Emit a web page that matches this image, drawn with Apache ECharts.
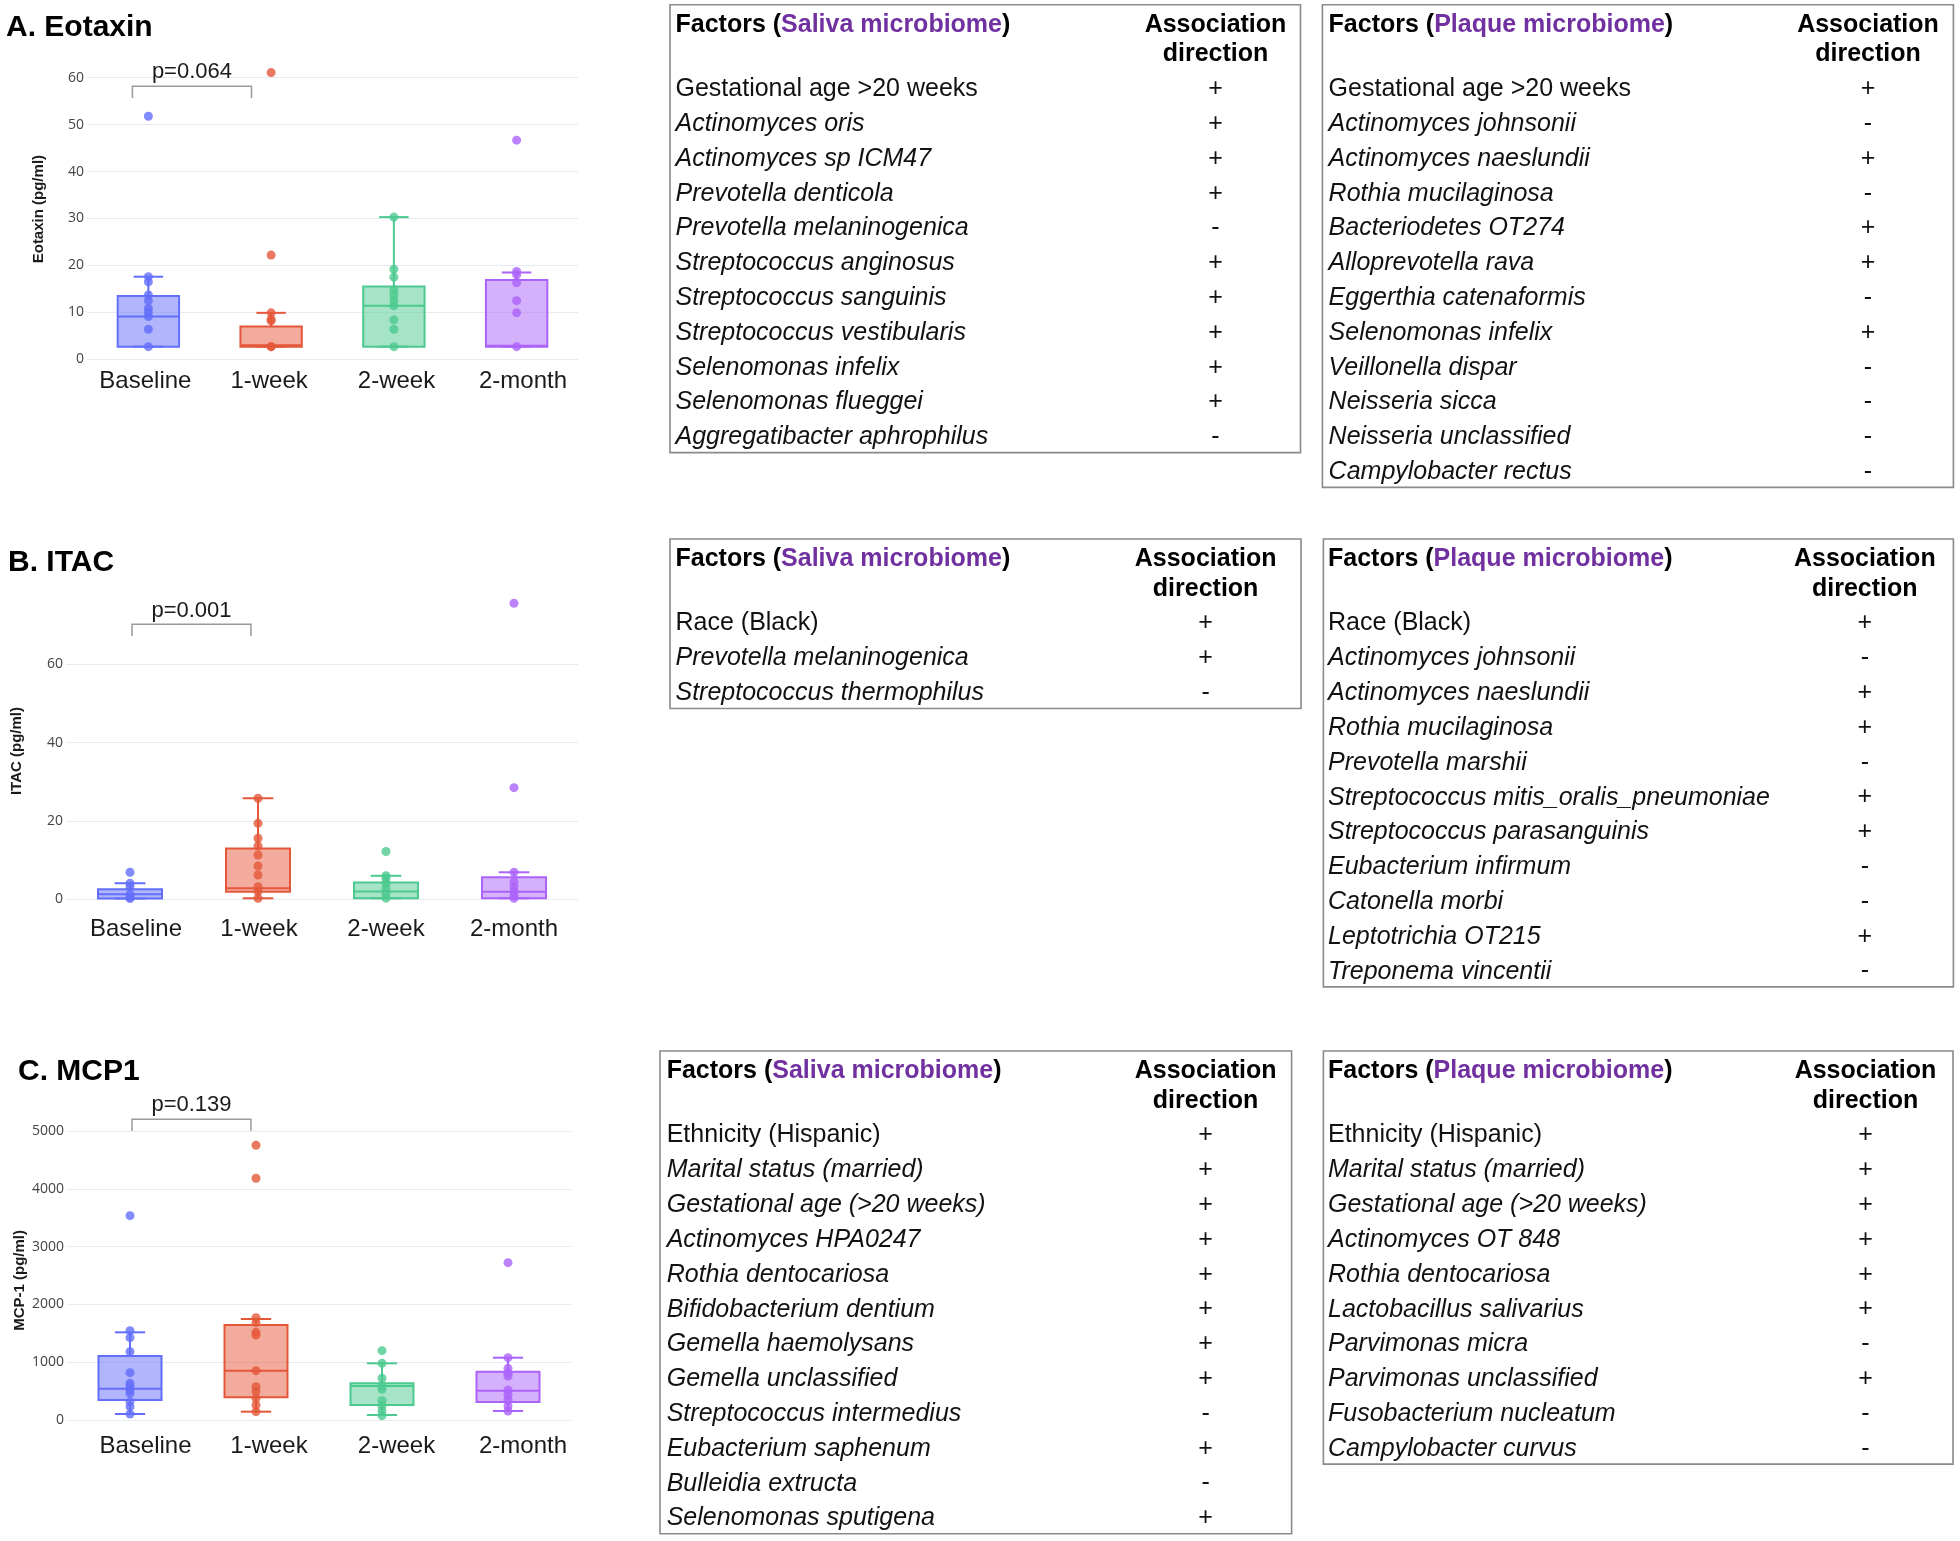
<!DOCTYPE html>
<html>
<head>
<meta charset="utf-8">
<script src="https://cdn.jsdelivr.net/npm/echarts@6/dist/echarts.min.js"></script>
<style>
  html, body { margin: 0; padding: 0; background: #ffffff; }
  #chart { width: 1960px; height: 1541px; }
</style>
</head>
<body>
<div id="chart"></div>
<script>
// ---------------- DATA ----------------
const timepoints = ['Baseline', '1-week', '2-week', '2-month'];

const panelTitles = ['A. Eotaxin', 'B. ITAC', 'C. MCP1'];
const yAxisNames = ['Eotaxin (pg/ml)', 'ITAC (pg/ml)', 'MCP-1 (pg/ml)'];
const pValues = ['p=0.064', 'p=0.001', 'p=0.139'];

// box statistics per timepoint: [lower whisker, Q1, median, Q3, upper whisker]
const eotaxinStats = [
  [2.7, 2.7, 9.1, 13.5, 17.6],
  [2.7, 2.7, 3.0, 7.0, 9.9],
  [2.7, 2.7, 11.4, 15.5, 30.3],
  [2.7, 2.7, 2.9, 16.9, 18.5]
];
const eotaxinPoints = [
  [51.8, 17.6, 16.5, 13.7, 12.5, 10.9, 10.0, 9.1, 6.4, 2.7],
  [61.1, 22.2, 9.9, 8.5, 8.2, 2.7, 2.7],
  [30.3, 19.2, 17.5, 14.8, 13.7, 12.5, 11.4, 8.4, 6.4, 2.7],
  [46.7, 18.7, 18.0, 16.3, 12.5, 9.9, 2.7]
];

const itacStats = [
  [0.2, 0.2, 1.3, 2.55, 4.1],
  [0.26, 1.95, 2.8, 13.0, 25.8],
  [0.26, 0.26, 2.0, 4.3, 6.0],
  [0.26, 0.26, 1.9, 5.6, 6.9]
];
const itacPoints = [
  [6.9, 4.1, 3.2, 1.3, 0.5, 0.2],
  [25.8, 19.4, 15.6, 13.6, 11.3, 8.5, 6.2, 3.2, 2.0, 0.26],
  [12.2, 6.0, 5.4, 4.1, 2.8, 1.5, 0.3],
  [75.6, 28.5, 6.9, 4.5, 3.2, 2.0, 0.9, 0.26]
];

const mcp1Stats = [
  [104, 346, 543, 1108, 1518],
  [144, 392, 854, 1645, 1749],
  [87, 260, 589, 635, 981],
  [156, 312, 508, 837, 1079]
];
const mcp1Points = [
  [3538, 1547, 1426, 1183, 820, 635, 589, 519, 462, 317, 231, 104],
  [4756, 4185, 1772, 1685, 1518, 1472, 854, 577, 491, 375, 260, 144],
  [1201, 981, 722, 589, 531, 335, 248, 162, 75],
  [2724, 1079, 895, 808, 762, 519, 433, 346, 242, 156]
];

// y-axis ticks
const yMaxTicks = [60, 60, 5000];
const yTickSteps = [10, 20, 1000];

// tables
const tableHeaderLeft = 'Factors';
const tableHeaderRight = ['Association', 'direction'];
const sampleTypes = ['Saliva microbiome', 'Plaque microbiome'];

const salivaEotaxinFactors = ['Gestational age >20 weeks', 'Actinomyces oris', 'Actinomyces sp ICM47', 'Prevotella denticola', 'Prevotella melaninogenica', 'Streptococcus anginosus', 'Streptococcus sanguinis', 'Streptococcus vestibularis', 'Selenomonas infelix', 'Selenomonas flueggei', 'Aggregatibacter aphrophilus'];
const salivaEotaxinSigns = ['+', '+', '+', '+', '-', '+', '+', '+', '+', '+', '-'];

const plaqueEotaxinFactors = ['Gestational age >20 weeks', 'Actinomyces johnsonii', 'Actinomyces naeslundii', 'Rothia mucilaginosa', 'Bacteriodetes OT274', 'Alloprevotella rava', 'Eggerthia catenaformis', 'Selenomonas infelix', 'Veillonella dispar', 'Neisseria sicca', 'Neisseria unclassified', 'Campylobacter rectus'];
const plaqueEotaxinSigns = ['+', '-', '+', '-', '+', '+', '-', '+', '-', '-', '-', '-'];

const salivaItacFactors = ['Race (Black)', 'Prevotella melaninogenica', 'Streptococcus thermophilus'];
const salivaItacSigns = ['+', '+', '-'];

const plaqueItacFactors = ['Race (Black)', 'Actinomyces johnsonii', 'Actinomyces naeslundii', 'Rothia mucilaginosa', 'Prevotella marshii', 'Streptococcus mitis_oralis_pneumoniae', 'Streptococcus parasanguinis', 'Eubacterium infirmum', 'Catonella morbi', 'Leptotrichia OT215', 'Treponema vincentii'];
const plaqueItacSigns = ['+', '-', '+', '+', '-', '+', '+', '-', '-', '+', '-'];

const salivaMcp1Factors = ['Ethnicity (Hispanic)', 'Marital status (married)', 'Gestational age (>20 weeks)', 'Actinomyces HPA0247', 'Rothia dentocariosa', 'Bifidobacterium dentium', 'Gemella haemolysans', 'Gemella unclassified', 'Streptococcus intermedius', 'Eubacterium saphenum', 'Bulleidia extructa', 'Selenomonas sputigena'];
const salivaMcp1Signs = ['+', '+', '+', '+', '+', '+', '+', '+', '-', '+', '-', '+'];

const plaqueMcp1Factors = ['Ethnicity (Hispanic)', 'Marital status (married)', 'Gestational age (>20 weeks)', 'Actinomyces OT 848', 'Rothia dentocariosa', 'Lactobacillus salivarius', 'Parvimonas micra', 'Parvimonas unclassified', 'Fusobacterium nucleatum', 'Campylobacter curvus'];
const plaqueMcp1Signs = ['+', '+', '+', '+', '+', '+', '-', '+', '-', '-'];

// factors set in upright (non-italic) type
const uprightFactors = ['Gestational age >20 weeks', 'Race (Black)', 'Ethnicity (Hispanic)'];

// ---------------- STYLE / LAYOUT ----------------
const groupColors = ['#636EFA', '#E5573A', '#4CC98E', '#AB63FA'];
const groupFills = ['rgba(99,110,250,0.5)', 'rgba(229,87,58,0.5)', 'rgba(76,201,142,0.5)', 'rgba(171,99,250,0.5)'];
const FONT = '"Liberation Sans", Arial, Helvetica, sans-serif';

const panels = [
  { stats: eotaxinStats, points: eotaxinPoints,
    grid: { left: 87, top: 58.95, width: 491, height: 300.35 }, yMax: 64,
    nameGap: 41, namePad: [0, 0, 0, 0], labelMargin: 10, labelShift: [-3, -2, 2.6, 6.4],
    bracket: { x0: -0.13, x1: 0.84, top: 58.2, leg: 55.7, text: 61.3 },
    title: { x: 6, y: 27.5 } },
  { stats: itacStats, points: itacPoints,
    grid: { left: 66, top: 593.8, width: 512, height: 305.5 }, yMax: 78,
    nameGap: 42, namePad: [0, 9, 0, 0], labelMargin: 18.5, labelShift: [6, 1, 0, 0],
    bracket: { x0: 0.016, x1: 0.945, top: 70.2, leg: 67.2, text: 73.7 },
    title: { x: 8, y: 562.5 } },
  { stats: mcp1Stats, points: mcp1Points,
    grid: { left: 67, top: 1090.8, width: 504, height: 329.2 }, yMax: 5700,
    nameGap: 40, namePad: [0, 50, 0, 0], labelMargin: 14, labelShift: [15.5, 13, 14.5, 15],
    bracket: { x0: 0.016, x1: 0.96, top: 5207, leg: 5010, text: 5455 },
    title: { x: 18, y: 1071.5 } }
];

const tables = [
  { factors: salivaEotaxinFactors, signs: salivaEotaxinSigns, type: 0, x: 670, y: 4.7, w: 630.5, textX: 675.5, assocX: 1215.5 },
  { factors: plaqueEotaxinFactors, signs: plaqueEotaxinSigns, type: 1, x: 1322.4, y: 4.7, w: 631, textX: 1328.6, assocX: 1868 },
  { factors: salivaItacFactors, signs: salivaItacSigns, type: 0, x: 670, y: 539, w: 631, textX: 675.5, assocX: 1205.6 },
  { factors: plaqueItacFactors, signs: plaqueItacSigns, type: 1, x: 1323.4, y: 539, w: 630, textX: 1328, assocX: 1864.8 },
  { factors: salivaMcp1Factors, signs: salivaMcp1Signs, type: 0, x: 660, y: 1051, w: 631.6, textX: 666.7, assocX: 1205.6 },
  { factors: plaqueMcp1Factors, signs: plaqueMcp1Signs, type: 1, x: 1323.4, y: 1051, w: 629.6, textX: 1328, assocX: 1865.5 }
];

// ---------------- BUILD ----------------
function renderBox(params, api) {
  const i = api.value(0);
  const cx = api.coord([i, 0])[0];
  const band = api.size([1, 0])[0];
  const hw = band * 0.25, cw = band * 0.12;
  const yLow = api.coord([i, api.value(1)])[1];
  const yQ1 = api.coord([i, api.value(2)])[1];
  const yMed = api.coord([i, api.value(3)])[1];
  const yQ3 = api.coord([i, api.value(4)])[1];
  const yHigh = api.coord([i, api.value(5)])[1];
  const c = groupColors[i];
  const ls = { stroke: c, lineWidth: 2, fill: null };
  return {
    type: 'group',
    children: [
      { type: 'rect', shape: { x: cx - hw, y: yQ3, width: 2 * hw, height: yQ1 - yQ3 }, style: { fill: groupFills[i], stroke: c, lineWidth: 2 } },
      { type: 'line', shape: { x1: cx - hw, y1: yMed, x2: cx + hw, y2: yMed }, style: ls },
      { type: 'line', shape: { x1: cx, y1: yQ3, x2: cx, y2: yHigh }, style: ls },
      { type: 'line', shape: { x1: cx, y1: yQ1, x2: cx, y2: yLow }, style: ls },
      { type: 'line', shape: { x1: cx - cw, y1: yHigh, x2: cx + cw, y2: yHigh }, style: ls },
      { type: 'line', shape: { x1: cx - cw, y1: yLow, x2: cx + cw, y2: yLow }, style: ls }
    ]
  };
}

function makeBracketRenderer(p, label) {
  return function (params, api) {
    const g0 = api.value(0), g1 = api.value(1);
    const band = api.size([1, 0])[0];
    const c0 = api.coord([g0, p.bracket.top]);
    const c1 = api.coord([g1, p.bracket.top]);
    const x0 = c0[0] + p.bracket.x0 * band;
    const x1 = c1[0] + (p.bracket.x1 - 1) * band;
    const yTop = c0[1];
    const yLeg = api.coord([g0, p.bracket.leg])[1];
    const yText = api.coord([g0, p.bracket.text])[1];
    return {
      type: 'group',
      children: [
        { type: 'polyline', shape: { points: [[x0, yLeg], [x0, yTop], [x1, yTop], [x1, yLeg]] }, style: { stroke: '#9a9a9a', lineWidth: 1.5, fill: null } },
        { type: 'text', style: { text: label, x: (x0 + x1) / 2, y: yText, align: 'center', verticalAlign: 'middle', fontSize: 22, fontFamily: FONT, fill: '#1a1a1a' } }
      ]
    };
  };
}

const grids = [], xAxes = [], yAxes = [], series = [], graphics = [];

panels.forEach((p, k) => {
  grids.push(p.grid);
  const rich = {};
  p.labelShift.forEach((s, i) => {
    rich['l' + i] = { fontSize: 24, fontFamily: FONT, color: '#1a1a1a',
      padding: s >= 0 ? [0, 0, 0, 2 * s] : [0, -2 * s, 0, 0] };
  });
  xAxes.push({
    type: 'category', gridIndex: k, data: timepoints, boundaryGap: true,
    axisLine: { show: false }, axisTick: { show: false }, splitLine: { show: false },
    axisLabel: { fontSize: 24, fontFamily: FONT, color: '#1a1a1a', margin: p.labelMargin, interval: 0,
      formatter: (v, idx) => '{l' + idx + '|' + v + '}', rich: rich }
  });
  yAxes.push({
    type: 'value', gridIndex: k, min: 0, max: p.yMax, interval: yTickSteps[k],
    name: yAxisNames[k], nameLocation: 'middle', nameGap: p.nameGap, nameRotate: 90,
    nameTextStyle: { fontSize: 15, fontWeight: 'bold', fontFamily: FONT, color: '#1a1a1a', padding: p.namePad },
    axisLine: { show: false }, axisTick: { show: false },
    axisLabel: { fontSize: 14, fontFamily: '"Open Sans", Arial, sans-serif', color: '#444', margin: 3, showMaxLabel: false,
      formatter: v => (v <= yMaxTicks[k] && v % yTickSteps[k] === 0) ? String(v) : '' },
    splitLine: { show: true, showMaxLine: false, lineStyle: { color: '#e6ebf3', width: 1.2 } }
  });
  series.push({
    type: 'custom', xAxisIndex: k, yAxisIndex: k, z: 2,
    renderItem: renderBox,
    encode: { x: 0, y: [1, 2, 3, 4, 5] },
    data: p.stats.map((s, i) => [i].concat(s))
  });
  const pts = [];
  p.points.forEach((arr, i) => arr.forEach(v => pts.push({ value: [i, v], itemStyle: { color: groupColors[i] } })));
  series.push({
    type: 'scatter', xAxisIndex: k, yAxisIndex: k, z: 3,
    symbol: 'circle', symbolSize: 9, data: pts
  });
  series.push({
    type: 'custom', xAxisIndex: k, yAxisIndex: k, z: 4,
    renderItem: makeBracketRenderer(p, pValues[k]),
    encode: { x: 0, y: 2 },
    data: [[0, 1, p.bracket.top]]
  });
  graphics.push({
    type: 'text', x: p.title.x, y: p.title.y,
    style: { text: panelTitles[k], fontSize: 30, fontWeight: 'bold', fontFamily: FONT, fill: '#000', verticalAlign: 'middle', align: 'left' }
  });
});

// tables
const ROW0 = 84.6, ROWH = 34.8, H1 = 20.4, H2 = 49.8;
tables.forEach(t => {
  const n = t.factors.length;
  const h = 83.4 + ROWH * (n - 1) + 16.5;
  graphics.push({ type: 'rect', shape: { x: t.x, y: t.y, width: t.w, height: h }, style: { fill: null, stroke: '#8a8a8a', lineWidth: 1.6 } });
  graphics.push({
    type: 'text', x: t.textX, y: t.y + H1,
    style: {
      text: '{b|' + tableHeaderLeft + ' (}{p|' + sampleTypes[t.type] + '}{b|)}',
      verticalAlign: 'middle', align: 'left', fontSize: 25, fontWeight: 'bold', fontFamily: FONT, fill: '#000',
      rich: {
        b: { fontSize: 25, fontWeight: 'bold', fontFamily: FONT, fill: '#000', color: '#000' },
        p: { fontSize: 25, fontWeight: 'bold', fontFamily: FONT, fill: '#7030A0', color: '#7030A0' }
      }
    }
  });
  tableHeaderRight.forEach((s, j) => {
    graphics.push({
      type: 'text', x: t.assocX, y: t.y + (j === 0 ? H1 : H2),
      style: { text: s, align: 'center', verticalAlign: 'middle', fontSize: 25, fontWeight: 'bold', fontFamily: FONT, fill: '#000' }
    });
  });
  t.factors.forEach((f, r) => {
    const y = t.y + ROW0 + ROWH * r;
    graphics.push({
      type: 'text', x: t.textX, y: y,
      style: { text: f, align: 'left', verticalAlign: 'middle', fontSize: 25, fontFamily: FONT,
        fontStyle: uprightFactors.indexOf(f) >= 0 ? 'normal' : 'italic', fill: '#111' }
    });
    graphics.push({
      type: 'text', x: t.assocX, y: y,
      style: { text: t.signs[r], align: 'center', verticalAlign: 'middle', fontSize: 25, fontFamily: FONT, fill: '#111' }
    });
  });
});

const chart = echarts.init(document.getElementById('chart'), null, { renderer: 'canvas', width: 1960, height: 1541 });
chart.setOption({
  backgroundColor: '#ffffff',
  animation: false,
  grid: grids,
  xAxis: xAxes,
  yAxis: yAxes,
  series: series,
  graphic: graphics
});
</script>
</body>
</html>
